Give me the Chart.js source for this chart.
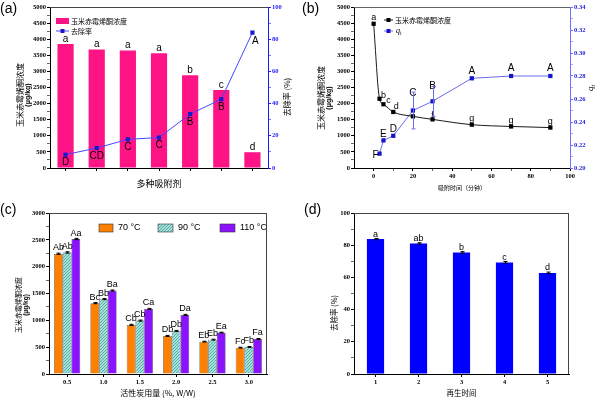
<!DOCTYPE html>
<html lang="zh">
<head>
<meta charset="UTF-8">
<title>玉米赤霉烯酮吸附与去除</title>
<script src="https://cdn.jsdelivr.net/npm/chart.js"></script>
<style>
  body { margin: 0; background: #fff; }
  #wrap { position: relative; width: 600px; height: 399px; overflow: hidden; }
  #wrap canvas { position: absolute; }
  .tag { position: absolute; font: 14px "Liberation Sans", Arial, sans-serif; line-height: 14px; color: #000; }
</style>
</head>
<body>
<div id="wrap">
  <canvas id="chartA" width="300" height="200" style="left:0;top:0"></canvas>
  <canvas id="chartB" width="300" height="200" style="left:300px;top:0"></canvas>
  <canvas id="chartC" width="300" height="199" style="left:0;top:200px"></canvas>
  <canvas id="chartD" width="300" height="199" style="left:300px;top:200px"></canvas>
  <div class="tag" style="left:0;top:1px">(a)</div>
  <div class="tag" style="left:302px;top:1px">(b)</div>
  <div class="tag" style="left:0;top:202px">(c)</div>
  <div class="tag" style="left:304px;top:202px">(d)</div>
</div>

<script>
// ---- data (a): different adsorbents
const sorbentsA = ['1', '2', '3', '4', '5', '6', '7'];
const zenConcA = [3850, 3680, 3650, 3560, 2880, 2420, 490];
const removalA = [8.3, 12.4, 17.8, 18.9, 33.5, 42.7, 84.1];
const concLettersA = ['a', 'a', 'a', 'a', 'b', 'c', 'd'];
const removalLettersA = ['D', 'CD', 'C', 'C', 'B', 'B', 'A'];
const concTicksA = [0, 500, 1000, 1500, 2000, 2500, 3000, 3500, 4000, 4500, 5000];
const rateTicksA = [0, 20, 40, 60, 80, 100];

// ---- data (b): adsorption time
const timeB = [0, 3, 5, 10, 20, 30, 50, 70, 90];
const zenConcB = [4480, 2150, 1980, 1740, 1605, 1510, 1345, 1290, 1255];
const concLettersB = ['a', 'b', 'c', 'd', '', 'f', 'g', 'g', 'g'];
const timeQB = [3, 5, 10, 20, 30, 50, 70, 90];
const qtB = [0.2125, 0.224, 0.228, 0.250, 0.258, 0.278, 0.280, 0.280];
const qtErrB = [0, 0, 0, 0.016, 0.013, 0, 0, 0];
const qtLettersB = ['F', 'E', 'D', 'C', 'B', 'A', 'A', 'A'];
const timeTicksB = [0, 20, 40, 60, 80, 100];
const concTicksB = [0, 500, 1000, 1500, 2000, 2500, 3000, 3500, 4000, 4500, 5000];
const qtTicksB = [0.20, 0.22, 0.24, 0.26, 0.28, 0.30, 0.32, 0.34];

// ---- data (c): activated carbon dosage at three temperatures
const dosesC = ['0.5', '1.0', '1.5', '2.0', '2.5', '3.0'];
const temp70C = [2240, 1320, 915, 709, 603, 491];
const temp90C = [2265, 1395, 995, 803, 640, 504];
const temp110C = [2515, 1555, 1213, 1101, 771, 653];
const err70C = [12, 10, 10, 10, 8, 8];
const err90C = [12, 10, 10, 10, 8, 8];
const err110C = [12, 10, 10, 10, 8, 8];
const letters70C = ['Ab', 'Bc', 'Cb', 'Db', 'Eb', 'Fc'];
const letters90C = ['Ab', 'Bb', 'Cb', 'Db', 'Eb', 'Fb'];
const letters110C = ['Aa', 'Ba', 'Ca', 'Da', 'Ea', 'Fa'];
const concTicksC = [0, 500, 1000, 1500, 2000, 2500, 3000];

// ---- data (d): regeneration cycles
const cyclesD = ['1', '2', '3', '4', '5'];
const removalD = [83.8, 81.1, 75.5, 69.3, 62.8];
const errD = [0.4, 0.4, 0.5, 0.6, 0.5];
const lettersD = ['a', 'ab', 'b', 'c', 'd'];
const rateTicksD = [0, 20, 40, 60, 80, 100];

// ---- shared styling
const serif = '"Liberation Serif", "Times New Roman", serif';
const sans = '"Liberation Sans", Arial, sans-serif';
const cjk = '"Noto Sans CJK SC", "Noto Sans", sans-serif';
const tickFont = { family: serif, size: 6.5, weight: 'bold' };

function withMinor(majors) {
  return scale => {
    const t = [];
    majors.forEach((v, i) => {
      t.push({ value: v });
      if (i < majors.length - 1) t.push({ value: (v + majors[i + 1]) / 2 });
    });
    scale.ticks = t;
  };
}

function isMajor(majors, v) {
  return majors.some(m => Math.abs(m - v) < 1e-9);
}

// linear axis with Origin-like outward ticks and minor ticks
function valueAxis(o) {
  const color = o.color || '#000';
  return {
    type: 'linear',
    position: o.position || 'left',
    min: o.ticks[0],
    max: o.ticks[o.ticks.length - 1],
    afterBuildTicks: withMinor(o.ticks),
    afterFit: s => { if (o.width !== undefined) s.width = o.width; if (o.height !== undefined) s.height = o.height; },
    border: { color: o.borderColor || color, width: 1 },
    grid: {
      drawOnChartArea: false, tickLength: 3, tickColor: o.borderColor || color,
      tickWidth: c => isMajor(o.ticks, c.tick.value) ? 1 : 0.6
    },
    ticks: {
      autoSkip: false, maxRotation: 0, padding: 1, color: color, font: tickFont,
      callback: v => isMajor(o.ticks, v) ? (o.fmt ? o.fmt(v) : String(v)) : ''
    },
    title: o.title ? { display: true, text: o.title, color: color, font: o.titleFont, padding: o.titlePad } : { display: false }
  };
}

function categoryAxis(o) {
  const ticks = { padding: 1, color: '#000', font: tickFont, maxRotation: 0 };
  if (o.hideLabels) ticks.callback = () => '';
  return {
    type: 'category',
    offset: true,
    afterFit: s => { s.height = o.height; },
    border: { color: '#000', width: 1 },
    grid: { offset: false, drawOnChartArea: false, tickLength: 3, tickColor: '#000' },
    ticks: ticks,
    title: { display: true, text: o.title, color: '#000', font: o.titleFont, padding: o.titlePad }
  };
}

// letters above / below marks
const letterPlugin = {
  id: 'letters',
  afterDatasetsDraw(chart, args, opts) {
    const ctx = chart.ctx;
    (opts.sets || []).forEach(set => {
      const meta = chart.getDatasetMeta(set.dataset);
      ctx.save();
      ctx.font = set.font;
      ctx.fillStyle = set.color || '#000';
      ctx.textAlign = 'center';
      ctx.textBaseline = 'middle';
      meta.data.forEach((el, i) => {
        const txt = set.texts[i];
        if (!txt) return;
        const off = (set.offsets && set.offsets[i]) || [0, set.dy || 0];
        ctx.fillText(txt, el.x + off[0], el.y + off[1]);
      });
      ctx.restore();
    });
  }
};

// vertical error bars with caps
const errorPlugin = {
  id: 'errbars',
  afterDatasetsDraw(chart, args, opts) {
    const ctx = chart.ctx;
    (opts.sets || []).forEach(set => {
      const meta = chart.getDatasetMeta(set.dataset);
      const ys = chart.scales[meta.yAxisID];
      const data = chart.data.datasets[set.dataset].data;
      ctx.save();
      ctx.strokeStyle = set.color || '#000';
      ctx.lineWidth = 1;
      meta.data.forEach((el, i) => {
        const e = set.errors[i];
        if (!e) return;
        const v = typeof data[i] === 'object' ? data[i].y : data[i];
        const y1 = ys.getPixelForValue(v + e), y2 = ys.getPixelForValue(v - e);
        const x = Math.round(el.x) + 0.5, w = set.cap || 2;
        ctx.beginPath();
        ctx.moveTo(x, y1); ctx.lineTo(x, y2);
        ctx.moveTo(x - w, y1); ctx.lineTo(x + w, y1);
        ctx.moveTo(x - w, y2); ctx.lineTo(x + w, y2);
        ctx.stroke();
      });
      ctx.restore();
    });
  }
};

// italic q with subscript t
function drawQt(ctx, x, y, size) {
  ctx.font = 'italic ' + size + 'px ' + serif;
  ctx.textAlign = 'left';
  ctx.fillText('q', x, y);
  const w = ctx.measureText('q').width;
  ctx.font = 'italic ' + (size * 0.65) + 'px ' + serif;
  ctx.fillText('t', x + w, y + size * 0.3);
}

// legend drawn inside the plot, Origin style
const legendPlugin = {
  id: 'insideLegend',
  afterDraw(chart, args, opts) {
    const ctx = chart.ctx;
    (opts.items || []).forEach(it => {
      const ds = chart.data.datasets[it.dataset];
      ctx.save();
      if (it.kind === 'box') {
        ctx.fillStyle = ds.backgroundColor;
        ctx.fillRect(it.x, it.y - it.h / 2, it.w, it.h);
        if (ds.borderWidth) {
          ctx.strokeStyle = ds.borderColor;
          ctx.lineWidth = ds.borderWidth;
          ctx.strokeRect(it.x, it.y - it.h / 2, it.w, it.h);
        }
      } else {
        ctx.strokeStyle = ds.borderColor;
        ctx.lineWidth = 1;
        ctx.beginPath();
        ctx.moveTo(it.x, it.y); ctx.lineTo(it.x + it.w, it.y);
        ctx.stroke();
        ctx.fillStyle = ds.pointBackgroundColor;
        ctx.fillRect(it.x + it.w / 2 - 2, it.y - 2, 4, 4);
      }
      ctx.fillStyle = it.color || '#000';
      ctx.textBaseline = 'middle';
      if (it.qt) {
        drawQt(ctx, it.x + it.w + it.gap, it.y, it.size);
      } else {
        ctx.font = it.font;
        ctx.textAlign = 'left';
        ctx.fillText(ds.label, it.x + it.w + it.gap, it.y);
      }
      ctx.restore();
    });
  }
};

// vertical axis titles, rotated to read bottom-to-top
const sideTitlePlugin = {
  id: 'sideTitles',
  afterDraw(chart, args, opts) {
    const ctx = chart.ctx;
    (opts.items || []).forEach(it => {
      ctx.save();
      ctx.translate(it.x, it.y);
      ctx.rotate(-Math.PI / 2);
      ctx.fillStyle = it.color || '#000';
      ctx.textBaseline = 'middle';
      if (it.qt) {
        drawQt(ctx, -4, 0, it.size);
      } else {
        it.lines.forEach((line, i) => {
          ctx.font = (it.fonts && it.fonts[i]) || it.font;
          ctx.textAlign = 'center';
          ctx.fillText(line, 0, i * (it.lh || 0));
        });
      }
      ctx.restore();
    });
  }
};

// frame edges not covered by an axis
const framePlugin = {
  id: 'frame',
  afterDraw(chart, args, opts) {
    const a = chart.chartArea, ctx = chart.ctx;
    ctx.save();
    ctx.strokeStyle = opts.color || '#444';
    ctx.lineWidth = 1;
    ctx.beginPath();
    (opts.sides || []).forEach(s => {
      if (s === 'top') { ctx.moveTo(a.left, a.top + 0.5); ctx.lineTo(a.right, a.top + 0.5); }
      if (s === 'right') { ctx.moveTo(a.right - 0.5, a.top); ctx.lineTo(a.right - 0.5, a.bottom); }
    });
    ctx.stroke();
    ctx.restore();
  }
};

Chart.register(letterPlugin, errorPlugin, legendPlugin, sideTitlePlugin, framePlugin);

const base = {
  responsive: false,
  animation: false,
  events: []
};
const concTitleFonts = ['8px ' + cjk, 'bold 7px ' + sans];

// ================= (a)
new Chart(document.getElementById('chartA'), {
  type: 'bar',
  data: {
    labels: sorbentsA,
    datasets: [
      { type: 'bar', label: '玉米赤霉烯酮浓度', data: zenConcA, yAxisID: 'y',
        backgroundColor: '#ff1485', borderWidth: 0, barPercentage: 0.52, categoryPercentage: 1, order: 2 },
      { type: 'line', label: '去除率', data: removalA, yAxisID: 'y1',
        borderColor: '#4646ff', borderWidth: 1, pointStyle: 'rect', pointRadius: 3,
        pointBackgroundColor: '#1a1acc', pointBorderWidth: 0, tension: 0, order: 1 }
    ]
  },
  options: {
    ...base,
    layout: { padding: { top: 7, left: 0, right: 0, bottom: 0 } },
    scales: {
      x: categoryAxis({ height: 32, hideLabels: true, title: '多种吸附剂',
        titleFont: { family: cjk, size: 9, lineHeight: 1.2 }, titlePad: { top: 0, bottom: 10.6 } }),
      y: valueAxis({ ticks: concTicksA, width: 50 }),
      y1: valueAxis({ ticks: rateTicksA, width: 32, position: 'right', color: '#1c1cff' })
    },
    plugins: {
      legend: { display: false },
      tooltip: { enabled: false },
      letters: { sets: [
        { dataset: 0, texts: concLettersA, font: '10px ' + sans, dy: -5 },
        { dataset: 1, texts: removalLettersA, font: '10px ' + sans, dy: 8,
          offsets: [null, null, null, null, null, null, [3, 9]] }
      ] },
      insideLegend: { items: [
        { dataset: 0, kind: 'box', x: 56, y: 21, w: 13, h: 6, gap: 2, font: '7px ' + cjk },
        { dataset: 1, kind: 'line', x: 56, y: 31, w: 13, gap: 2, font: '7px ' + cjk }
      ] },
      sideTitles: { items: [
        { lines: ['玉米赤霉烯酮浓度', '(μg/kg)'], fonts: concTitleFonts, x: 19.5, y: 95, lh: 8.5 },
        { lines: ['去除率 (%)'], font: '8px ' + cjk, x: 287, y: 97 }
      ] },
      frame: { sides: ['top'] }
    }
  }
});

// ================= (b)
new Chart(document.getElementById('chartB'), {
  type: 'line',
  data: {
    datasets: [
      { label: '玉米赤霉烯酮浓度', data: timeB.map((t, i) => ({ x: t, y: zenConcB[i] })), yAxisID: 'y',
        borderColor: '#1a1a1a', borderWidth: 1, pointStyle: 'rect', pointRadius: 3,
        pointBackgroundColor: '#000', pointBorderWidth: 0, cubicInterpolationMode: 'monotone' },
      { label: 'qt', data: timeQB.map((t, i) => ({ x: t, y: qtB[i] })), yAxisID: 'y1',
        borderColor: '#6b6bf0', borderWidth: 1, pointStyle: 'rect', pointRadius: 3,
        pointBackgroundColor: '#1414c8', pointBorderWidth: 0, tension: 0 }
    ]
  },
  options: {
    ...base,
    layout: { padding: { top: 7, left: 0, right: 0, bottom: 0 } },
    scales: {
      x: Object.assign(valueAxis({ ticks: timeTicksB, height: 32, position: 'bottom', title: '吸附时间（分钟）',
        titleFont: { family: cjk, size: 6, lineHeight: 1.2 }, titlePad: { top: 0, bottom: 8.4 } }), { min: -10 }),
      y: valueAxis({ ticks: concTicksB, width: 54 }),
      y1: valueAxis({ ticks: qtTicksB, width: 30, position: 'right', color: '#2020e0', borderColor: '#7070ff',
        fmt: v => v.toFixed(2) })
    },
    plugins: {
      legend: { display: false },
      tooltip: { enabled: false },
      errbars: { sets: [{ dataset: 1, errors: qtErrB, color: '#6b6bf0', cap: 2 }] },
      letters: { sets: [
        { dataset: 0, texts: concLettersB, font: '9px ' + sans,
          offsets: [[0, -6], [4, -3], [5, -4], [3, -5], null, [0, -4], [0, -6], [0, -6], [0, -6]] },
        { dataset: 1, texts: qtLettersB, font: '10px ' + sans,
          offsets: [[-4, 2], [0, -6], [0, -7], [0, -17], [0, -15], [0, -7], [0, -8], [0, -8]] }
      ] },
      insideLegend: { items: [
        { dataset: 0, kind: 'line', x: 84, y: 20, w: 9, gap: 2, font: '7px ' + cjk },
        { dataset: 1, kind: 'line', x: 84, y: 31, w: 9, gap: 3, qt: true, size: 8 }
      ] },
      sideTitles: { items: [
        { lines: ['玉米赤霉烯酮浓度', '(μg/kg)'], fonts: concTitleFonts, x: 21, y: 98, lh: 8.5 },
        { qt: true, size: 9, x: 291, y: 87 }
      ] },
      frame: { sides: ['top'], color: '#666' }
    }
  }
});

// ================= (c)
const ctxC = document.getElementById('chartC').getContext('2d');
function dotted() {
  const c = document.createElement('canvas');
  c.width = 3; c.height = 3;
  const g = c.getContext('2d');
  g.fillStyle = '#a9e2dc'; g.fillRect(0, 0, 3, 3);
  g.fillStyle = '#52aca3'; g.fillRect(0, 0, 1, 1); g.fillRect(1, 2, 1, 1); g.fillRect(2, 1, 1, 1);
  return ctxC.createPattern(c, 'repeat');
}
const barC = { borderColor: '#333', borderWidth: 0.6, categoryPercentage: 0.72, barPercentage: 1 };
new Chart(ctxC, {
  type: 'bar',
  data: {
    labels: dosesC,
    datasets: [
      Object.assign({ label: '70 °C', data: temp70C, backgroundColor: '#ff8000' }, barC),
      Object.assign({ label: '90 °C', data: temp90C, backgroundColor: dotted() }, barC),
      Object.assign({ label: '110 °C', data: temp110C, backgroundColor: '#8a12ff' }, barC)
    ]
  },
  options: {
    ...base,
    layout: { padding: { top: 13, left: 0, right: 33, bottom: 0 } },
    scales: {
      x: categoryAxis({ height: 25, title: '活性炭用量 (%, W/W)',
        titleFont: { family: cjk, size: 8, lineHeight: 1.2 }, titlePad: { top: 0, bottom: 1.5 } }),
      y: valueAxis({ ticks: concTicksC, width: 49 })
    },
    plugins: {
      legend: { display: false },
      tooltip: { enabled: false },
      errbars: { sets: [
        { dataset: 0, errors: err70C, cap: 2 },
        { dataset: 1, errors: err90C, cap: 2 },
        { dataset: 2, errors: err110C, cap: 2 }
      ] },
      letters: { sets: [
        { dataset: 0, texts: letters70C, font: '9px ' + sans, dy: -6 },
        { dataset: 1, texts: letters90C, font: '9px ' + sans, dy: -6 },
        { dataset: 2, texts: letters110C, font: '9px ' + sans, dy: -6 }
      ] },
      insideLegend: { items: [
        { dataset: 0, kind: 'box', x: 99, y: 28, w: 14, h: 8, gap: 5, font: '9px ' + sans },
        { dataset: 1, kind: 'box', x: 158, y: 28, w: 15, h: 8, gap: 5, font: '9px ' + sans },
        { dataset: 2, kind: 'box', x: 220, y: 28, w: 15, h: 8, gap: 5, font: '9px ' + sans }
      ] },
      sideTitles: { items: [
        { lines: ['玉米赤霉烯酮浓度', '(μg/kg)'], fonts: ['7px ' + cjk, 'bold 6.5px ' + sans], x: 18, y: 105, lh: 8 }
      ] },
      frame: { sides: ['top', 'right'] }
    }
  }
});

// ================= (d)
new Chart(document.getElementById('chartD'), {
  type: 'bar',
  data: {
    labels: cyclesD,
    datasets: [
      { label: '去除率', data: removalD, backgroundColor: '#0000ff', borderWidth: 0,
        barPercentage: 0.4, categoryPercentage: 1 }
    ]
  },
  options: {
    ...base,
    layout: { padding: { top: 13, left: 0, right: 31, bottom: 0 } },
    scales: {
      x: categoryAxis({ height: 25, title: '再生时间',
        titleFont: { family: cjk, size: 7.5, lineHeight: 1.2 }, titlePad: { top: 0, bottom: 1.8 } }),
      y: valueAxis({ ticks: rateTicksD, width: 54 })
    },
    plugins: {
      legend: { display: false },
      tooltip: { enabled: false },
      errbars: { sets: [{ dataset: 0, errors: errD, cap: 2, color: '#000' }] },
      letters: { sets: [{ dataset: 0, texts: lettersD, font: '9px ' + sans, dy: -5 }] },
      sideTitles: { items: [
        { lines: ['去除率 (%)'], font: '7.5px ' + cjk, x: 34.5, y: 113 }
      ] },
      frame: { sides: ['top', 'right'] }
    }
  }
});
</script>
</body>
</html>
